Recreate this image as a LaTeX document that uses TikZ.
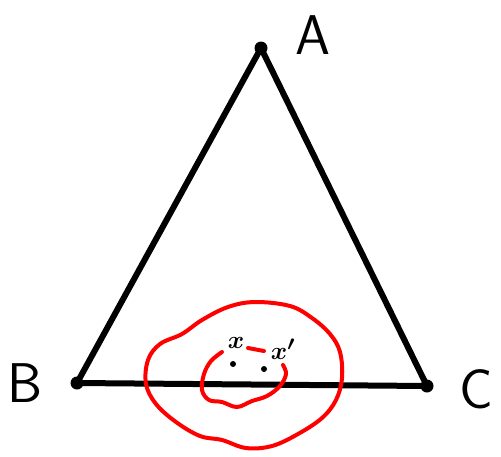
\documentclass[tikz,border=0pt]{standalone}
\usetikzlibrary{positioning}
\tikzset{
  vertex/.style={circle,fill=black,inner sep=0pt,minimum size=13pt},
  side/.style={line width=6pt,line join=round},
  blob/.style={red,line width=4pt,line cap=round,line join=round},
  corner/.style={font=\fontsize{56}{56}\selectfont\sffamily},
  pointlabel/.style={font=\fontsize{28}{28}\selectfont\boldmath},
  pt/.style={circle,fill=black,inner sep=0pt,minimum size=6pt}
}
\begin{document}
\begin{tikzpicture}[x=1pt,y=-1pt] % 1 px = 1 pt

% --------- SOMMETS ----------
\coordinate (A) at (261,48);
\coordinate (B) at (77,383);
\coordinate (C) at (427,386);
% --------------------------------

\useasboundingbox (0,0) rectangle (501,456);

% Triangle
\draw[side] (A) -- (B) -- (C) -- cycle;
\node[vertex] (dotA) at (A) {};
\node[vertex] (dotB) at (B) {};
\node[vertex] (dotC) at (C) {};

% Noms des sommets
\node[corner] (labA) at (313,35) {A};
\node[corner] (labB) at (25,383) {B};
\node[corner] (labC) at (476,389) {C};

% Grand voisinage
\draw[blob] plot[smooth cycle,tension=0.6] coordinates {
  (255,302) (290,306) (312,318) (330,334) (340,352) (342,378)
  (336,400) (322,418) (298,434) (272,446) (246,448) (222,440)
  (200,436) (176,422) (156,404) (146,384) (148,360) (160,344)
  (182,334) (202,320) (228,307)};

% Petit voisinage (ouvert)
\draw[blob] plot[smooth,tension=0.6] coordinates {
  (222,352) (211,361) (204,374) (202,390) (209,400) (222,402)
  (237,407) (252,401) (267,396) (280,386) (286,374) (283,365)};
\draw[blob] (248,348) -- (264,351);

% Points x et x'
\node[pt] (x) at (233,364) {};
\node[pt] (xp) at (264,369) {};
\node[pointlabel] (labx) at (236,343) {$x$};
\node[pointlabel] (labxp) at (283,349) {$x'$};

\end{tikzpicture}
\end{document}
